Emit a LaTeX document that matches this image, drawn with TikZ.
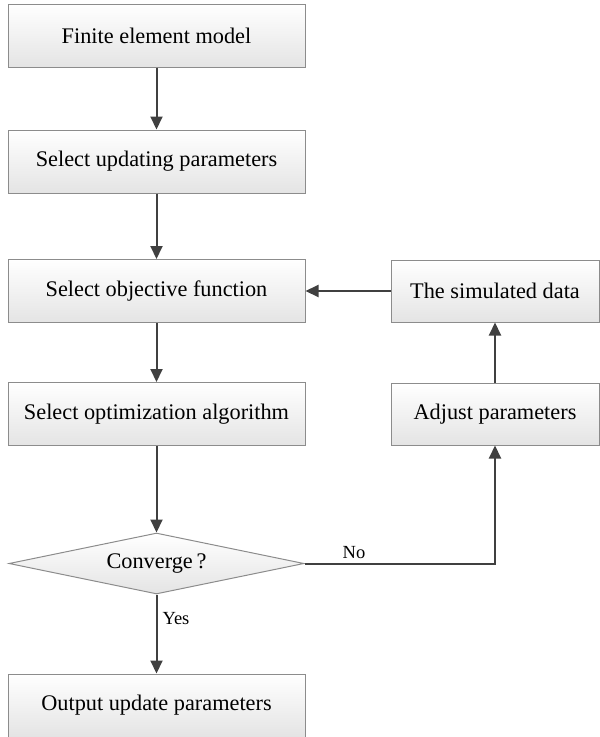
\documentclass[tikz,border=0pt]{standalone}
\usepackage{fontspec}
\setmainfont{Liberation Serif}
\usetikzlibrary{calc}
\usetikzlibrary{shapes.geometric}
\usetikzlibrary{arrows.meta}

\definecolor{boxline}{HTML}{8C8C8C}
\definecolor{boxfill}{HTML}{E4E4E4}
\definecolor{flowline}{HTML}{404040}

\tikzset{
    stepbox/.style={draw=boxline, line width=1pt, top color=white, bottom color=boxfill,
        minimum width=297pt, minimum height=63pt, inner sep=0pt,
        font=\fontsize{22.3}{25}\selectfont},
    sidebox/.style={stepbox, minimum width=208pt, minimum height=62pt},
    decide/.style={diamond, draw=boxline, line width=1pt, top color=white, bottom color=boxfill,
        aspect=4.84, minimum width=295pt, minimum height=61pt, inner sep=0pt,
        font=\fontsize{22.3}{25}\selectfont},
    flow/.style={draw=flowline, line width=2pt, -{Triangle[length=13pt,width=12pt]}},
    branch/.style={font=\fontsize{18.5}{21}\selectfont, inner sep=2pt}
}

\begin{document}
\begin{tikzpicture}[x=1pt,y=-1pt]
                    \useasboundingbox (0,0) rectangle (600,737);

                    % main column
                    \node[stepbox] (fem)  at (156.5,35.5)  {Finite element model};
                    \node[stepbox] (par)  at (156.5,161.5) {Select updating parameters};
                    \node[stepbox] (obj)  at (156.5,291)   {Select objective function};
                    \node[stepbox] (alg)  at (156.5,414)   {Select optimization algorithm};
                    \node[decide]  (conv) at (156.5,563.5) {Converge\,?};
                    \node[stepbox] (out)  at (156.5,705.5) {Output update parameters};

                    % feedback column
                    \node[sidebox] (sim) at (495,291) {The simulated data};
                    \node[sidebox] (adj) at (495,414) {Adjust parameters};

                    \draw[flow] (fem) -- (par);
                    \draw[flow] (par) -- (obj);
                    \draw[flow] (obj) -- (alg);
                    \draw[flow] (alg) -- (conv);
                    \draw[flow] (conv) -- node[branch, pos=0.3, right, xshift=3pt] {Yes} (out);
                    \draw[flow] (conv.east) -| node[branch, pos=0.13, above, yshift=2pt] {No} (adj.south);
                    \draw[flow] (adj) -- (sim);
                    \draw[flow] (sim) -- (obj);
                \end{tikzpicture}
\end{document}
